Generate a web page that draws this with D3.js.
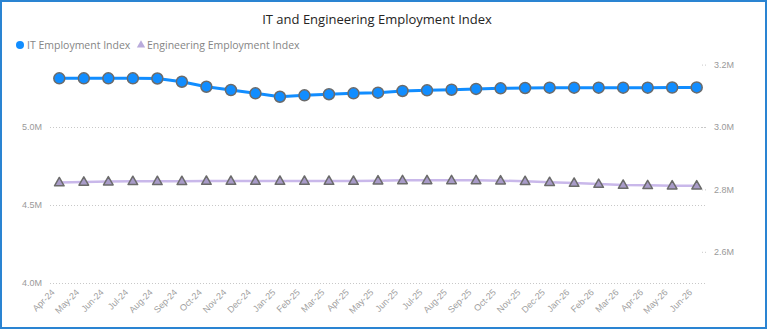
<!DOCTYPE html>
<meta charset="utf-8">
<html>
  <head>
    <title>IT and Engineering Employment Index</title>
    <script src="https://d3js.org/d3.v7.min.js"></script>
    <style>
      body { margin: 0; background: #fff; }
      svg { display: block; font-family: "Segoe UI", "Open Sans", "Noto Sans", sans-serif; }
    </style>
  </head>
  <body>
    <div id="chart"></div>
    <script type="text/javascript">
        /* data, in millions */
        var months = ["Apr-24","May-24","Jun-24","Jul-24","Aug-24","Sep-24","Oct-24","Nov-24","Dec-24",
                      "Jan-25","Feb-25","Mar-25","Apr-25","May-25","Jun-25","Jul-25","Aug-25","Sep-25",
                      "Oct-25","Nov-25","Dec-25","Jan-26","Feb-26","Mar-26","Apr-26","May-26","Jun-26"];
        var it_index = [5.312,5.312,5.312,5.312,5.311,5.290,5.258,5.237,5.216,
                        5.194,5.203,5.210,5.216,5.220,5.231,5.235,5.239,5.244,
                        5.248,5.250,5.252,5.252,5.252,5.252,5.252,5.253,5.254];
        var eng_index = [2.822,2.824,2.825,2.826,2.826,2.826,2.827,2.827,2.827,
                         2.827,2.827,2.827,2.827,2.828,2.829,2.829,2.829,2.829,
                         2.828,2.826,2.823,2.8205,2.817,2.814,2.813,2.812,2.812];
        var left_ticks = [4.0, 4.5, 5.0];
        var right_ticks = [2.6, 2.8, 3.0, 3.2];
        var series_names = ["IT Employment Index", "Engineering Employment Index"];

        /* layout */
        var total_width = 768, total_height = 330,
            plot = {left: 50, right: 706, top: 49, bottom: 283},
            it_color = "#118DFF", eng_line = "#C9B8EA", eng_fill = "#A89BC8",
            marker_stroke = "#6b6b6b";

        var svg = d3.select("#chart").append("svg")
                .attr("width", total_width)
                .attr("height", total_height);

        /* frame */
        svg.append("rect")
            .attr("x", 1).attr("y", 1)
            .attr("width", 765).attr("height", 327)
            .attr("fill", "white")
            .attr("stroke", "#2a84d2")
            .attr("stroke-width", 2);

        /* scales */
        var x = d3.scalePoint().domain(months).range([59.3, 696.7]);
        var y_left = d3.scaleLinear().domain([4.0, 5.5]).range([plot.bottom, plot.top]);
        var y_right = d3.scaleLinear().domain([2.5, 3.25]).range([plot.bottom, plot.top]);
        var fmt = function(d){ return d3.format(".1f")(d) + "M"; };

        /* left axis with gridlines */
        var left_axis = svg.append("g")
            .attr("transform", "translate(" + plot.left + ",0)")
            .call(d3.axisLeft(y_left).tickValues(left_ticks).tickFormat(fmt)
                  .tickSize(-(plot.right - plot.left)).tickPadding(8));
        left_axis.select(".domain").remove();
        left_axis.selectAll("line")
            .attr("stroke", "#c8c8c8").attr("stroke-dasharray", "1,2");
        left_axis.selectAll("text")
            .attr("fill", "#9a9a9a").style("font-size", "9px");

        /* right axis with short dotted ticks */
        var right_axis = svg.append("g")
            .attr("transform", "translate(" + plot.right + ",0)")
            .call(d3.axisRight(y_right).tickValues(right_ticks).tickFormat(fmt)
                  .tickSize(-6).tickPadding(8));
        right_axis.select(".domain").remove();
        right_axis.selectAll("line")
            .attr("stroke", "#c8c8c8").attr("stroke-dasharray", "1,2");
        right_axis.selectAll("text")
            .attr("fill", "#9a9a9a").style("font-size", "9px");

        /* x axis labels */
        var x_axis = svg.append("g")
            .attr("transform", "translate(0," + (plot.bottom + 4) + ")")
            .call(d3.axisBottom(x).tickSize(0).tickPadding(0));
        x_axis.select(".domain").remove();
        x_axis.selectAll("text")
            .attr("fill", "#a0a0a0")
            .style("font-size", "9px")
            .attr("text-anchor", "end")
            .attr("dx", "-1")
            .attr("dy", "6")
            .attr("transform", "translate(-8,1) rotate(-45)");

        /* engineering line + triangles */
        var eng_data = months.map(function(m, i){ return {m: m, v: eng_index[i]}; });
        svg.append("path")
            .datum(eng_data)
            .attr("d", d3.line().x(function(d){ return x(d.m); }).y(function(d){ return y_right(d.v); }))
            .attr("fill", "none")
            .attr("stroke", eng_line)
            .attr("stroke-width", 2.5);
        svg.append("g").selectAll("path")
            .data(eng_data)
            .enter().append("path")
            .attr("d", d3.symbol().type(d3.symbolTriangle).size(40))
            .attr("transform", function(d){ return "translate(" + x(d.m) + "," + (y_right(d.v) + 0.5) + ")"; })
            .attr("fill", eng_fill)
            .attr("stroke", marker_stroke)
            .attr("stroke-width", 1.5)
            .attr("stroke-linejoin", "round");

        /* IT line + circles */
        var it_data = months.map(function(m, i){ return {m: m, v: it_index[i]}; });
        svg.append("path")
            .datum(it_data)
            .attr("d", d3.line().x(function(d){ return x(d.m); }).y(function(d){ return y_left(d.v); }))
            .attr("fill", "none")
            .attr("stroke", it_color)
            .attr("stroke-width", 3);
        svg.append("g").selectAll("circle")
            .data(it_data)
            .enter().append("circle")
            .attr("cx", function(d){ return x(d.m); })
            .attr("cy", function(d){ return y_left(d.v); })
            .attr("r", 5.5)
            .attr("fill", it_color)
            .attr("stroke", marker_stroke)
            .attr("stroke-width", 1.5);

        /* title */
        svg.append("text")
            .attr("x", 377).attr("y", 24)
            .attr("text-anchor", "middle")
            .attr("fill", "#252423")
            .style("font-size", "13px")
            .text("IT and Engineering Employment Index");

        /* legend */
        var legend = svg.append("g").attr("transform", "translate(0,45)");
        legend.append("circle").attr("cx", 20).attr("cy", 0).attr("r", 4).attr("fill", it_color);
        legend.append("text").attr("x", 27).attr("y", 3.5)
            .attr("fill", "#858585").style("font-size", "10.5px").text(series_names[0]);
        legend.append("path")
            .attr("d", d3.symbol().type(d3.symbolTriangle).size(30))
            .attr("transform", "translate(141,0)")
            .attr("fill", "#b9abdc");
        legend.append("text").attr("x", 147).attr("y", 3.5)
            .attr("fill", "#858585").style("font-size", "10.5px").text(series_names[1]);
    </script>
  </body>
</html>
